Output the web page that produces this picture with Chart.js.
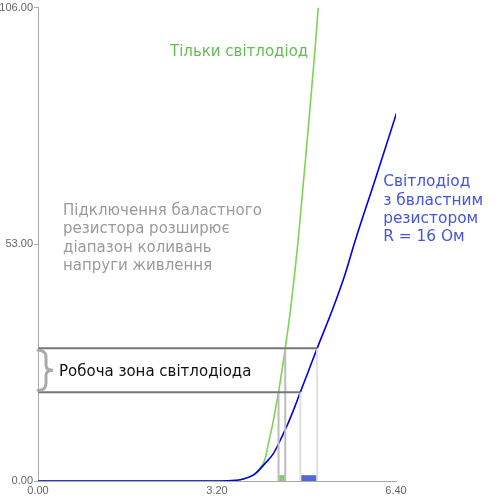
<!DOCTYPE html>
<html>
<head>
<meta charset="utf-8">
<script src="https://cdn.jsdelivr.net/npm/chart.js@4"></script>
<style>
  html,body{margin:0;padding:0;background:#fff;}
  #wrap{width:500px;height:500px;}
</style>
</head>
<body>
<div id="wrap"><canvas id="c" width="500" height="500"></canvas></div>
<script>
// ---- data ----
const xTicks = [0, 3.2, 6.4];
const yTicks = [0, 53, 106];

const ledX = [0, 1, 2, 3, 3.4, 3.67, 3.85, 3.97, 4.06, 4.12, 4.2, 4.25, 4.3, 4.42, 4.52, 4.58, 4.65, 4.81, 4.95, 5.01];
const ledY = [0, 0, 0, 0, 0.05, 0.45, 1.34, 2.9, 5.0, 8.5, 13, 16.5, 19.9, 29.7, 38.9, 45.5, 53.8, 76, 96.2, 106];

const resX = [0, 1, 2, 3, 3.4, 3.67, 3.88, 4.06, 4.21, 4.36, 4.47, 4.59, 4.69, 4.81, 4.99, 5.28, 5.49, 5.67, 6.02, 6.41];
const resY = [0, 0, 0, 0, 0.05, 0.45, 1.6, 3.95, 6.2, 9.9, 12.9, 16.6, 19.9, 23.8, 29.7, 38.9, 46.3, 53.8, 67.2, 82.4];

const zoneLow = 19.9;
const zoneHigh = 29.7;
const ledZoneX = [4.3, 4.42];    // LED only: x at zoneLow, zoneHigh
const resZoneX = [4.69, 4.99];   // LED + resistor: x at zoneLow, zoneHigh
const barHeight = 1.3;

const ledLabel = ['Тільки світлодіод'];
const noteLabel = ['Підключення баластного', 'резистора розширює', 'діапазон коливань', 'напруги живлення'];
const resLabel = ['Світлодіод', 'з бвластним', 'резистором', 'R = 16 Ом'];
const zoneLabel = ['Робоча зона світлодіода'];

// ---- annotation styling/positions (data coords) ----
const texts = [
  {lines: ledLabel,  x: 2.36, y: 96.0, color: '#66bb55', font: '15px "DejaVu Sans"', lh: 18.5},
  {lines: noteLabel, x: 0.447, y: 60.5, color: '#9a9a9a', font: '15px "DejaVu Sans"', lh: 18.5},
  {lines: resLabel,  x: 6.17, y: 66.9, color: '#4455dd', font: '15.4px "DejaVu Sans"', lh: 18.3},
  {lines: zoneLabel, x: 0.375, y: 24.3, color: '#111111', font: '15px "DejaVu Sans"', lh: 18}
];

const pts = (xs, ys) => xs.map((x, i) => ({x: x, y: ys[i]}));

const datasets = [
  // horizontal working zone lines
  {data: [{x: 0, y: zoneHigh}, {x: resZoneX[1], y: zoneHigh}], borderColor: '#777', borderWidth: 2},
  {data: [{x: 0, y: zoneLow}, {x: resZoneX[0], y: zoneLow}], borderColor: '#777', borderWidth: 2},
  // verticals - led only
  {data: [{x: ledZoneX[0], y: 0}, {x: ledZoneX[0], y: zoneLow}], borderColor: '#bdbdbd', borderWidth: 2},
  {data: [{x: ledZoneX[1], y: 0}, {x: ledZoneX[1], y: zoneHigh}], borderColor: '#bdbdbd', borderWidth: 2},
  // verticals - with resistor
  {data: [{x: resZoneX[0], y: 0}, {x: resZoneX[0], y: zoneLow}], borderColor: '#e0e0e0', borderWidth: 2},
  {data: [{x: resZoneX[1], y: 0}, {x: resZoneX[1], y: zoneHigh}], borderColor: '#e0e0e0', borderWidth: 2},
  // curves
  {data: pts(resX, resY), borderColor: '#0000ee', borderWidth: 1.6, cubicInterpolationMode: 'monotone'},
  {data: pts(ledX, ledY), borderColor: 'rgba(102,204,51,0.85)', borderWidth: 1.6, cubicInterpolationMode: 'monotone'}
];
datasets.forEach(d => { d.pointRadius = 0; d.fill = false; });

const annot = {
  id: 'annot',
  beforeDatasetsDraw(chart) {
    const {ctx, scales: {x, y}} = chart;
    ctx.save();
    const rect = (x0, x1, col) => {
      const px0 = x.getPixelForValue(x0), px1 = x.getPixelForValue(x1);
      const py0 = y.getPixelForValue(barHeight), py1 = y.getPixelForValue(0);
      ctx.fillStyle = col;
      ctx.fillRect(px0, py0, px1 - px0, py1 - py0);
    };
    rect(ledZoneX[0], ledZoneX[1], '#88cc66');
    rect(resZoneX[0], resZoneX[1], '#5566dd');
    ctx.restore();
  },
  afterDraw(chart) {
    const {ctx, scales: {x, y}} = chart;
    ctx.save();
    ctx.textBaseline = 'middle';
    ctx.textAlign = 'left';
    texts.forEach(t => {
      ctx.font = t.font;
      ctx.fillStyle = t.color;
      const px = x.getPixelForValue(t.x);
      const py = y.getPixelForValue(t.y);
      t.lines.forEach((l, i) => ctx.fillText(l, px, py + i * t.lh));
    });
    // curly brace
    const bx = x.getPixelForValue(0);
    const top = y.getPixelForValue(zoneHigh) + 2;
    const bot = y.getPixelForValue(zoneLow) - 2;
    const mid = (top + bot) / 2;
    const w = 8, tip = 15;
    ctx.strokeStyle = '#aaaaaa';
    ctx.lineWidth = 3;
    ctx.lineCap = 'round';
    ctx.beginPath();
    ctx.moveTo(bx, top);
    ctx.quadraticCurveTo(bx + w, top, bx + w, top + 7);
    ctx.lineTo(bx + w, mid - 5);
    ctx.quadraticCurveTo(bx + w, mid, bx + tip, mid);
    ctx.quadraticCurveTo(bx + w, mid, bx + w, mid + 5);
    ctx.lineTo(bx + w, bot - 7);
    ctx.quadraticCurveTo(bx + w, bot, bx, bot);
    ctx.stroke();
    ctx.restore();
  }
};

new Chart(document.getElementById('c'), {
  type: 'line',
  data: {datasets: datasets},
  options: {
    responsive: false,
    animation: false,
    layout: {padding: {top: 6, right: 104, left: 0, bottom: 0}},
    plugins: {legend: {display: false}, tooltip: {enabled: false}},
    scales: {
      x: {
        type: 'linear', min: 0, max: 6.4,
        afterBuildTicks: s => { s.ticks = xTicks.map(v => ({value: v})); },
        afterFit: s => { s.height = 19; },
        ticks: {callback: v => v.toFixed(2), color: '#666', font: {size: 11, family: '"Liberation Sans", Arial, sans-serif'}, padding: 3, maxRotation: 0},
        grid: {display: true, drawOnChartArea: false, drawTicks: false, color: '#aaa'},
        border: {color: '#aaa', width: 1}
      },
      y: {
        type: 'linear', min: 0, max: 106,
        afterBuildTicks: s => { s.ticks = yTicks.map(v => ({value: v})); },
        afterFit: s => { s.width = 38; },
        ticks: {callback: v => v.toFixed(2), color: '#666', font: {size: 11, family: '"Liberation Sans", Arial, sans-serif'}, padding: 1},
        grid: {display: true, drawOnChartArea: false, drawTicks: true, tickLength: 4, color: '#aaa'},
        border: {color: '#aaa', width: 1}
      }
    }
  },
  plugins: [annot]
});
</script>
</body>
</html>
